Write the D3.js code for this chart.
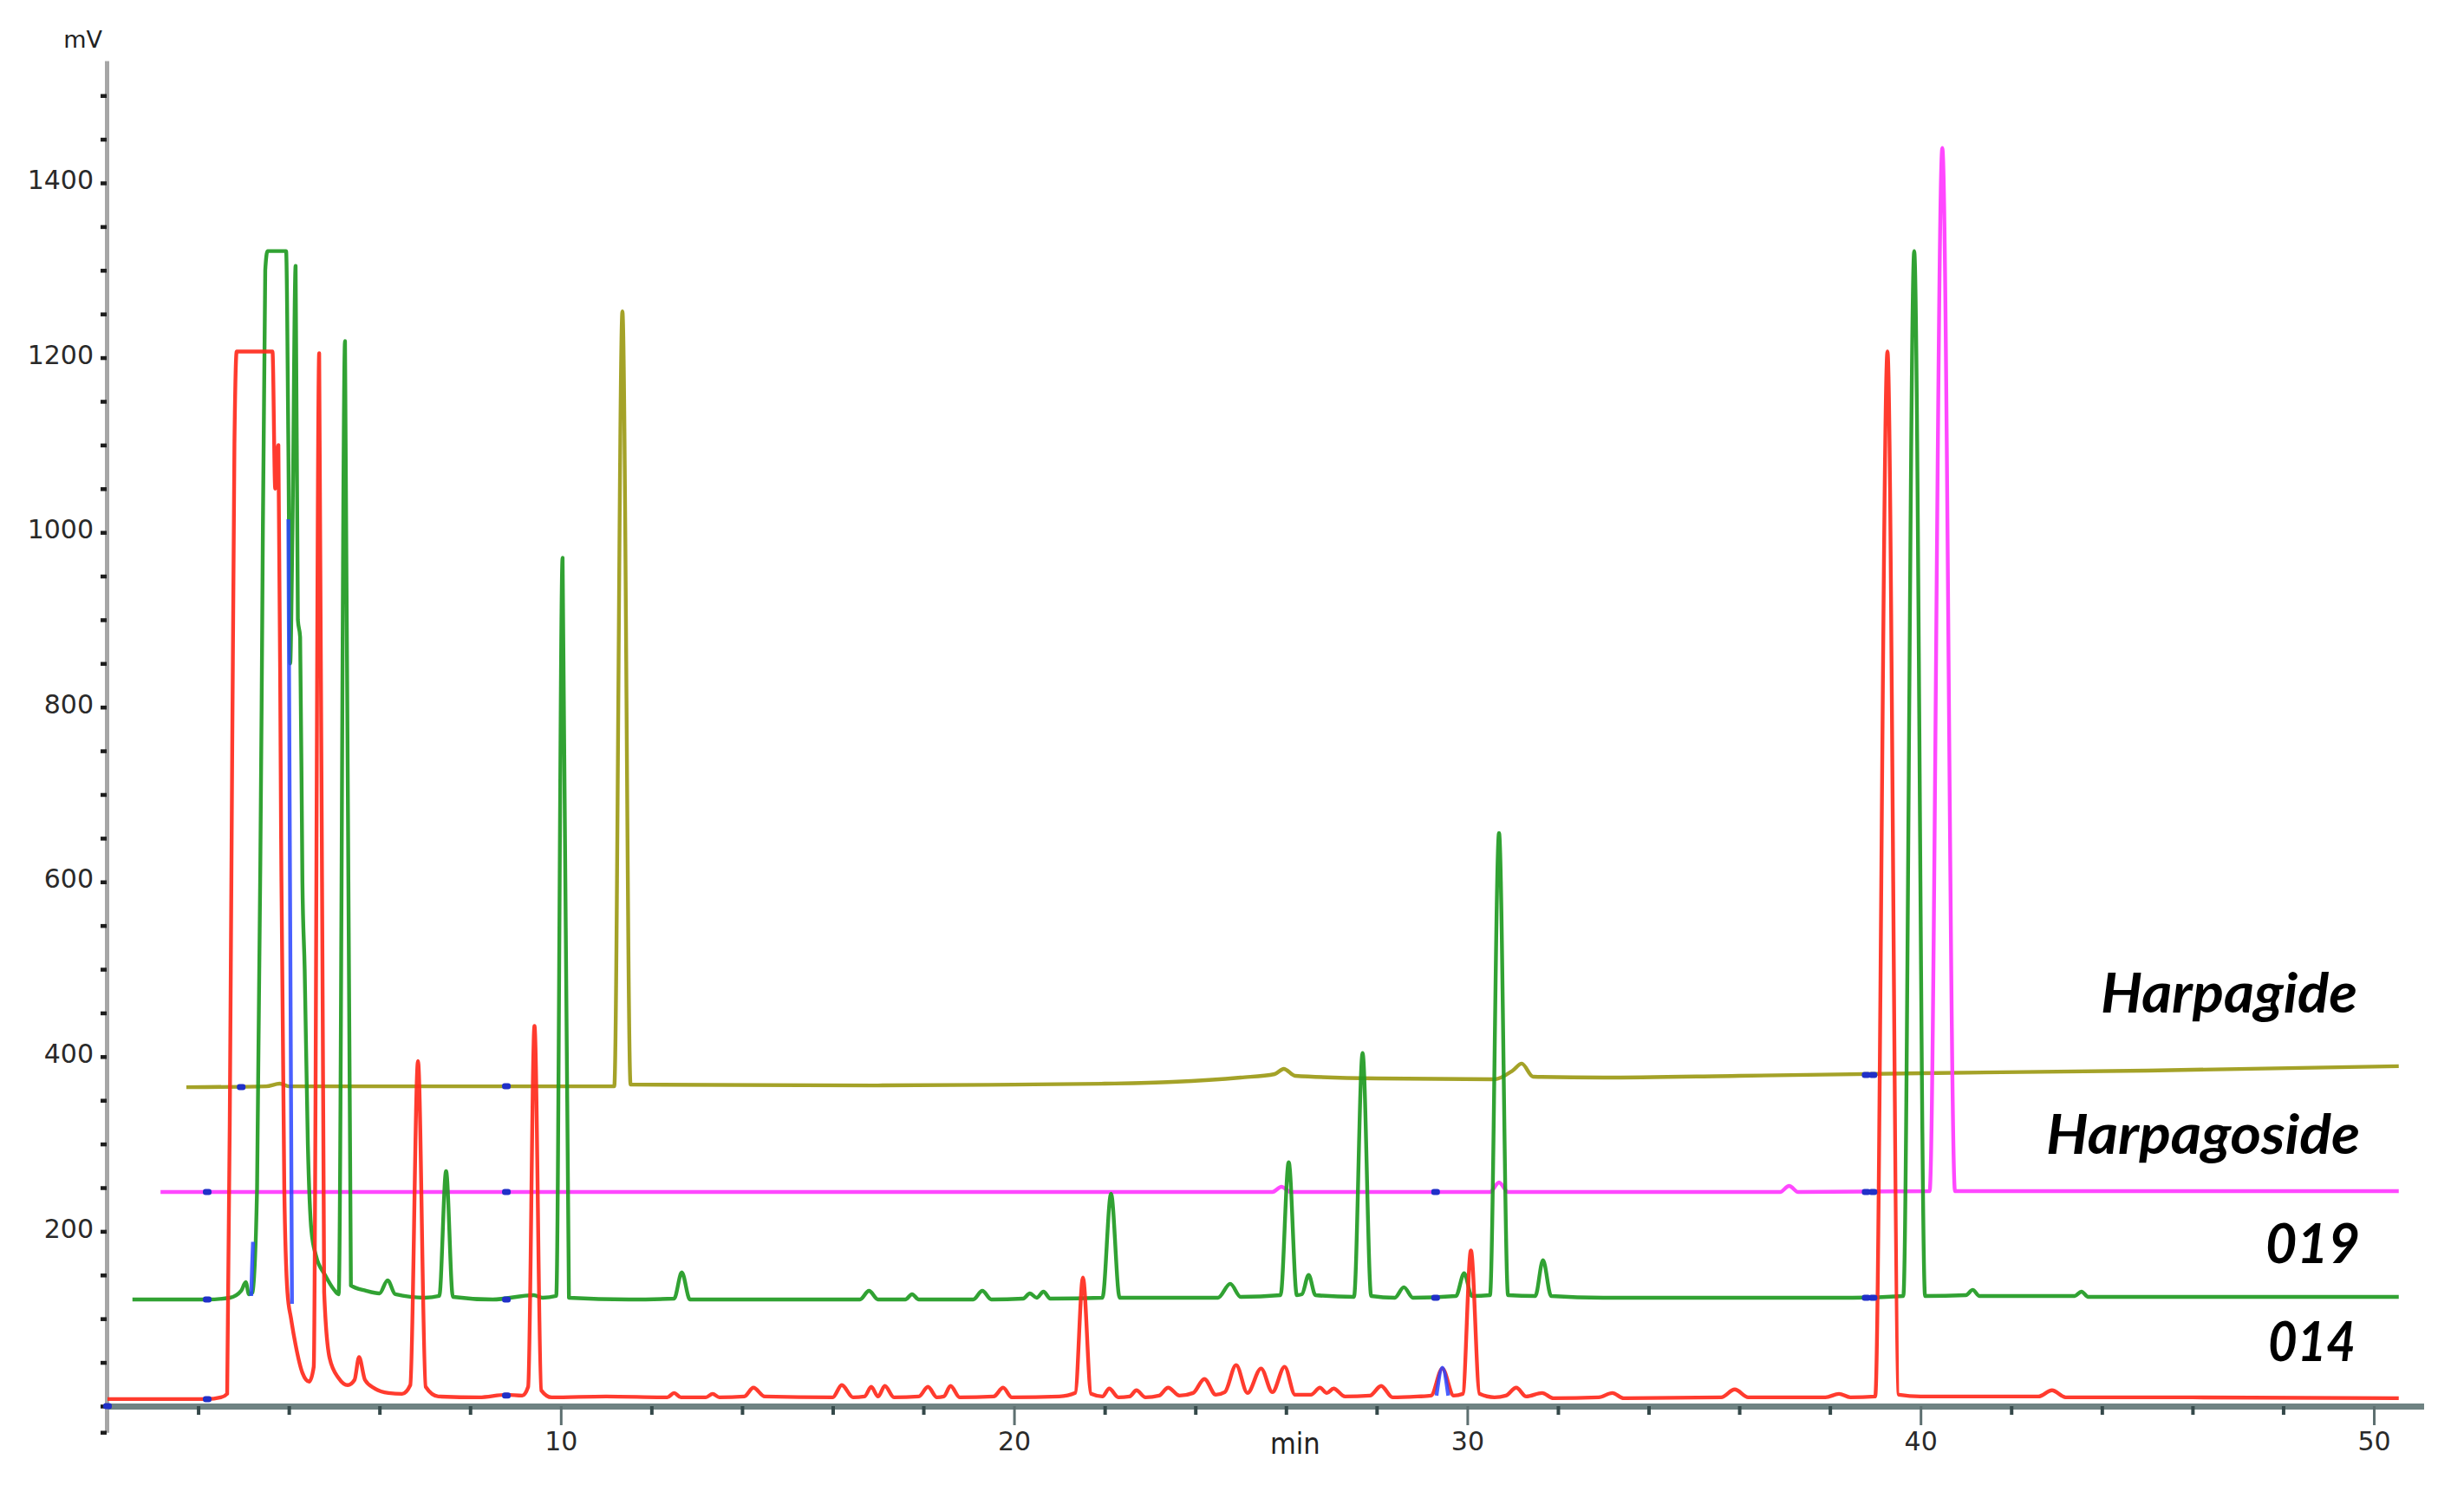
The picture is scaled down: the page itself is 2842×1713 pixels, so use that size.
<!DOCTYPE html>
<html>
<head>
<meta charset="utf-8">
<script src="https://cdn.jsdelivr.net/npm/d3@7"></script>
<style>
body { margin: 0; background: #fff; }
svg { display: block; background: #fff; }
</style>
</head>
<body>
<svg width="2842" height="1713"></svg>
<script>
// traces as [min, mV]
var sample014 = [
	[0,8],[2.2,8],[2.5,10],[2.64,14],[2.72,500],[2.8,1100],[2.85,1207],[3.64,1207],[3.7,1050],[3.77,1100],
	[3.83,650],[3.9,250],[3.97,130],[4.05,100],[4.15,70],[4.3,38],[4.45,28],[4.55,45],[4.67,1205],[4.78,130],
	[4.9,55],[5.1,32],[5.3,24],[5.45,30],[5.55,56],[5.68,30],[5.9,20],[6.2,15],[6.5,14],[6.68,24],
	[6.85,395],[7.02,22],[7.3,11],[8.2,10],[8.8,13],[9.15,12],[9.28,22],[9.42,435],[9.57,18],[9.8,10],
	[11.0,11],[12.35,10],[12.5,15],[12.65,10],[13.2,10],[13.35,14],[13.5,10],[14.05,11],[14.25,21],[14.5,11],
	[16.0,10],[16.2,24],[16.45,10],[16.7,11],[16.85,22],[17.0,11],[17.15,23],[17.35,10],[17.9,11],[18.1,22],
	[18.3,10],[18.45,11],[18.6,23],[18.8,10],[19.55,11],[19.76,21],[19.95,10],[21.0,11],[21.35,15],[21.52,147],
	[21.7,14],[21.95,11],[22.1,20],[22.3,10],[22.55,11],[22.7,18],[22.9,10],[23.2,12],[23.4,21],[23.65,12],
	[23.95,15],[24.2,31],[24.45,13],[24.65,16],[24.9,47],[25.15,15],[25.45,43],[25.7,16],[25.97,45],[26.2,13],
	[26.55,13],[26.75,21],[26.9,15],[27.05,20],[27.3,11],[27.85,12],[28.1,23],[28.35,10],[28.9,11],[29.2,12],
	[29.45,43],[29.7,12],[29.9,14],[30.08,178],[30.27,14],[30.6,10],[30.85,12],[31.08,21],[31.3,11],[31.65,15],
	[31.9,9],[32.9,10],[33.2,15],[33.45,9],[35.6,10],[35.9,19],[36.2,10],[37.9,10],[38.2,14],[38.45,10],
	[39.0,11],[39.27,1207],[39.52,13],[40.0,11],[42.6,11],[42.9,18],[43.2,10],[46,10],[50.55,9]
];

var sample019 = [
	[0.55,122],[2.2,122],[2.7,124],[2.95,132],[3.05,142],[3.12,128],[3.2,130],[3.3,250],[3.4,800],[3.48,1300],
	[3.53,1322],[3.94,1322],[3.99,1100],[4.03,850],[4.08,1000],[4.15,1305],[4.2,900],[4.25,880],[4.3,600],[4.35,500],
	[4.42,300],[4.5,200],[4.6,172],[4.8,150],[5.0,133],[5.1,128],[5.24,1219],[5.37,138],[5.7,132],[6.0,129],
	[6.18,144],[6.35,128],[7.0,124],[7.32,126],[7.47,269],[7.62,125],[8.5,122],[9.4,127],[9.6,124],[9.9,126],
	[10.04,971],[10.18,124],[11.5,122],[12.5,123],[12.67,153],[12.85,122],[14,122],[16.6,122],[16.8,132],[17.0,122],
	[17.6,122],[17.75,128],[17.9,122],[19.1,122],[19.3,132],[19.5,122],[20.2,123],[20.35,129],[20.5,124],[20.65,131],
	[20.8,123],[21.95,124],[22.14,243],[22.33,124],[24.5,124],[24.77,140],[25.0,125],[25.88,127],[26.06,279],[26.24,127],
	[26.35,128],[26.5,150],[26.65,127],[27.5,125],[27.69,404],[27.88,126],[28.4,124],[28.6,136],[28.8,124],[29.75,126],
	[29.93,152],[30.1,126],[30.5,127],[30.7,656],[30.9,127],[31.5,126],[31.67,167],[31.85,126],[33,124],[38.5,124],
	[39.62,126],[39.86,1322],[40.1,126],[41.0,127],[41.15,133],[41.3,126],[43.4,126],[43.55,131],[43.7,125],[50.55,125]
];

var harpagoside = [
	[1.17,245],[25.7,245],[25.9,251],[26.1,245],[30.5,245],[30.7,256],[30.9,245],[36.9,245],[37.1,252],[37.3,245],
	[40.2,246],[40.48,1440],[40.76,246],[50.55,246]
];

var harpagide = [
	[1.74,365],[3.5,366],[3.8,369],[4.0,366],[11.18,366],[11.36,1253],[11.54,368],[17,367],[20,368],[22,369],
	[23.5,371],[25,376],[25.75,380],[25.95,386],[26.2,378],[28,375],[30.6,374],[31.0,384],[31.2,392],[31.45,377],
	[33,376],[36,378],[40,381],[45,384],[50.55,389]
];

// blue integration pieces and baseline markers
var blueParts = [
	[[3.17,126],[3.19,160],[3.21,188]],
	[[3.99,1015],[4.03,560],[4.07,117]],
	[[29.32,12],[29.45,44],[29.58,12]]
];
var blueMarks = [
	[0,0],[2.2,8],[2.2,122],[2.2,245],[2.95,365],[8.8,12],[8.8,122],[8.8,245],[8.8,366],
	[29.3,245],[29.3,124],[38.8,124],[38.95,124],[38.8,245],[38.95,245],[38.8,379],[38.95,379]
];

var traceNames = ["Harpagide", "Harpagoside", "019", "014"];
var xLabelTicks = [10, 20, 30, 40, 50];
var yLabelTicks = [200, 400, 600, 800, 1000, 1200, 1400];

var svg = d3.select("svg"),
	width = +svg.attr("width"),
	height = +svg.attr("height");

var x = d3.scaleLinear().domain([0, 51.1]).range([124, 2795.5]);
var y = d3.scaleLinear().domain([-30, 1540]).range([1652.2, 69.9]);

var line = d3.line()
	.x(function(d) { return x(d[0]); })
	.y(function(d) { return y(d[1]); })
	.curve(d3.curveMonotoneX);

// y axis: minor dots every 50 mV
var yMinor = svg.append("g")
	.attr("transform", "translate(123,0)")
	.call(d3.axisLeft(y).tickValues(d3.range(0, 1501, 50).concat([-30])).tickSize(7).tickSizeOuter(0).tickFormat(""));
yMinor.select(".domain").attr("stroke", "#a6a6a6").attr("stroke-width", 5);
yMinor.selectAll(".tick line").attr("stroke", "#1e1e1e").attr("stroke-width", 4.5);

var yLab = svg.append("g")
	.attr("transform", "translate(123,0)")
	.call(d3.axisLeft(y).tickValues(yLabelTicks).tickSize(0).tickPadding(15).tickFormat(d3.format("d")));
yLab.select(".domain").remove();
yLab.selectAll("text")
	.attr("dy", "0.22em")
	.attr("font-family", "DejaVu Sans")
	.attr("font-size", 30)
	.attr("fill", "#2a2a2a");

// x axis
var xMinor = svg.append("g")
	.attr("transform", "translate(0,1622)")
	.call(d3.axisBottom(x).tickValues(d3.range(2, 51, 2).filter(function(v) { return v % 10; })).tickSize(10).tickSizeOuter(0).tickFormat(""));
xMinor.select(".domain").attr("stroke", "#6f8383").attr("stroke-width", 7);
xMinor.selectAll(".tick line").attr("stroke", "#35494a").attr("stroke-width", 4);

var xLab = svg.append("g")
	.attr("transform", "translate(0,1622)")
	.call(d3.axisBottom(x).tickValues(xLabelTicks).tickSize(22).tickPadding(8));
xLab.select(".domain").remove();
xLab.selectAll(".tick line").attr("stroke", "#5d6f70").attr("stroke-width", 3);
xLab.selectAll("text")
	.attr("font-family", "DejaVu Sans")
	.attr("font-size", 30)
	.attr("fill", "#2a2a2a");

svg.append("text")
	.attr("x", x(26.2))
	.attr("y", 1677)
	.attr("text-anchor", "middle")
	.attr("font-family", "DejaVu Sans Condensed, DejaVu Sans")
	.attr("font-size", 34)
	.attr("fill", "#222")
	.text("min");

svg.append("text")
	.attr("x", 118)
	.attr("y", 55)
	.attr("text-anchor", "end")
	.attr("font-family", "DejaVu Sans")
	.attr("font-size", 27)
	.attr("fill", "#222")
	.text("mV");

// traces
var traces = [
	{data: harpagide, color: "#9c9a16"},
	{data: harpagoside, color: "#ff38ff"},
	{data: sample019, color: "#1f9a22"},
	{data: sample014, color: "#ff2a1c"}
];

svg.append("g")
	.selectAll("path")
	.data(traces)
	.enter().append("path")
	.attr("d", function(d) { return line(d.data); })
	.attr("fill", "none")
	.attr("stroke", function(d) { return d.color; })
	.attr("stroke-width", 4.4)
	.attr("stroke-linejoin", "round")
	.attr("stroke-opacity", 0.92);

svg.append("g")
	.selectAll("path")
	.data(blueParts)
	.enter().append("path")
	.attr("d", line)
	.attr("fill", "none")
	.attr("stroke", "#2a44ff")
	.attr("stroke-width", 4.4)
	.attr("stroke-opacity", 0.85);

svg.append("g")
	.selectAll("rect")
	.data(blueMarks)
	.enter().append("rect")
	.attr("x", function(d) { return x(d[0]) - 5; })
	.attr("y", function(d) { return y(d[1]) - 3.5; })
	.attr("width", 10)
	.attr("height", 7)
	.attr("rx", 3)
	.attr("fill", "#2030c8");

// trace names
var nameX = [2719, 2722, 2722, 2717],
	nameY = [1168, 1331, 1457, 1570],
	nameLen = [296, 362, 109, 101];

svg.append("g")
	.selectAll("text")
	.data(traceNames)
	.enter().append("text")
	.attr("x", function(d, i) { return nameX[i]; })
	.attr("y", function(d, i) { return nameY[i]; })
	.attr("text-anchor", "end")
	.attr("textLength", function(d, i) { return nameLen[i]; })
	.attr("lengthAdjust", "spacingAndGlyphs")
	.attr("font-family", "Lato")
	.attr("font-style", "italic")
	.attr("font-weight", "bold")
	.attr("font-size", 64)
	.attr("fill", "#000")
	.text(function(d) { return d; });
</script>
</body>
</html>
